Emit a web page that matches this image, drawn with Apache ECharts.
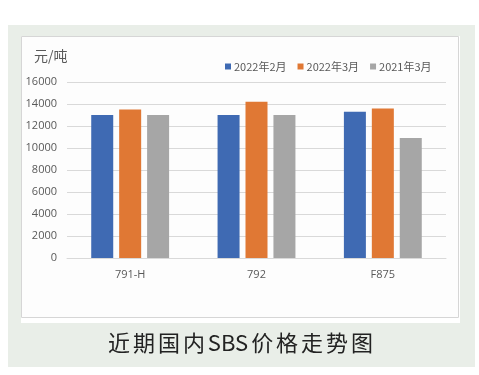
<!DOCTYPE html>
<html><head><meta charset="utf-8">
<style>html,body{margin:0;padding:0;background:#fff;}#c{width:479px;height:375px;}</style>
<script src="https://cdn.jsdelivr.net/npm/echarts@6/dist/echarts.min.js"></script>
</head><body><div id="c"></div>
<script>
const categories = ['791-H', '792', 'F875'];
const seriesNames = ['2022年2月', '2022年3月', '2021年3月'];
const feb2022 = [13000, 13000, 13300];
const mar2022 = [13500, 14200, 13600];
const mar2021 = [13000, 13000, 10900];
const colors = ['#3f6ab3', '#e07834', '#a6a6a6'];
const unitLabel = '元/吨';
const caption = '近期国内SBS价格走势图';

const chart = echarts.init(document.getElementById('c'));

// caption with letter spacing (Latin run kept together)
const capFont = '22px "Noto Sans CJK SC"';
const cv = document.createElement('canvas').getContext('2d');
cv.font = capFont;
const chunks = caption.match(/[A-Za-z]+|./g);
const widths = chunks.map(ch => cv.measureText(ch).width);
const targetW = 265;
const rawW = widths.reduce((a, b) => a + b, 0);
const spacing = (targetW - rawW) / (chunks.length - 1);
let cx = 240.5 - targetW / 2;
const capEls = chunks.map((ch, i) => {
  const el = {type: 'text', left: cx, top: 332, z: 10,
    style: {text: ch, font: capFont, fill: '#222'}};
  cx += widths[i] + spacing;
  return el;
});

const dataSets = [feb2022, mar2022, mar2021];
chart.setOption({
  animation: false,
  textStyle: {fontFamily: '"Open Sans", "Noto Sans CJK SC", sans-serif'},
  graphic: [
    {type: 'rect', shape: {x: 8, y: 25, width: 467, height: 342}, style: {fill: '#e9eee8'}, z: -10},
    {type: 'rect', shape: {x: 21, y: 36, width: 439, height: 287}, style: {fill: '#ffffff'}, z: -9},
    {type: 'rect', shape: {x: 21.5, y: 36.5, width: 437, height: 281}, style: {fill: '#fdfdfd', stroke: '#d6d6d6', lineWidth: 1}, z: -8},
    {type: 'text', left: 34, top: 49, style: {text: unitLabel, font: '14px "Noto Sans CJK SC"', fill: '#595959'}},
    ...capEls
  ],
  legend: {
    top: 56, left: 220, itemWidth: 6, itemHeight: 6, itemGap: 11,
    icon: 'rect',
    textStyle: {fontSize: 11, color: '#595959', fontFamily: '"Noto Sans CJK SC"', padding: [0, 0, 0, -2]},
    data: seriesNames
  },
  grid: {left: 67, right: 33, top: 82, bottom: 117},
  xAxis: {
    type: 'category', data: categories,
    axisLine: {lineStyle: {color: '#d9d9d9'}},
    axisTick: {show: false},
    axisLabel: {color: '#595959', fontSize: 11, margin: 11}
  },
  yAxis: {
    type: 'value', min: 0, max: 16000, interval: 2000,
    axisLine: {show: false}, axisTick: {show: false},
    axisLabel: {color: '#595959', fontSize: 11, margin: 10, formatter: v => String(v)},
    splitLine: {lineStyle: {color: '#d9d9d9'}}
  },
  series: seriesNames.map((n, i) => ({
    name: n, type: 'bar', data: dataSets[i], barWidth: 22, barGap: '27%',
    itemStyle: {color: colors[i]}
  }))
});
</script></body></html>
